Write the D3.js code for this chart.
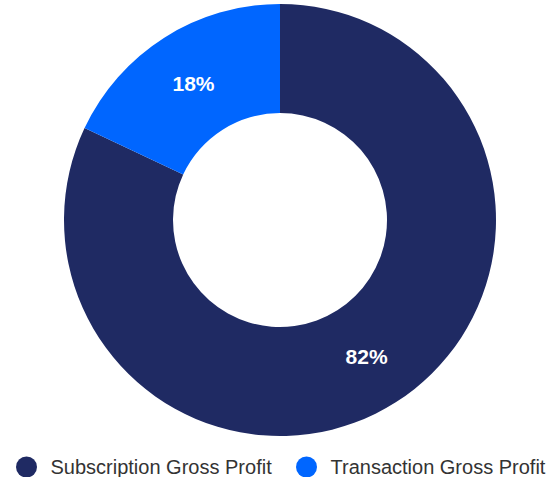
<!DOCTYPE html>
<html lang="en">
<head>
<meta charset="UTF-8">
<title>Gross Profit</title>
<script src="https://cdn.jsdelivr.net/npm/d3@7"></script>
<style>
  body { margin: 0; background: #fff; }
  svg { display: block; font-family: "Liberation Sans", Arial, sans-serif; }
</style>
</head>
<body>
<svg width="550" height="477" id="mainsvg"></svg>
<script>
const categories = ['Subscription Gross Profit', 'Transaction Gross Profit'];
const values = [82, 18];
const colors = ['#1f2a63', '#0066ff'];

const svg = d3.select('#mainsvg');
const cx = 280, cy = 220;
const outerR = 216, innerR = 107;

const data = categories.map((c, i) => ({name: c, value: values[i]}));

const pie = d3.pie().value(d => d.value).sort(null);
const arc = d3.arc().innerRadius(innerR).outerRadius(outerR);

const g = svg.append('g').attr('transform', `translate(${cx},${cy})`);
const arcs = pie(data);

g.selectAll('path').data(arcs).join('path')
  .attr('d', arc)
  .attr('fill', (d, i) => colors[i]);

g.selectAll('text').data(arcs).join('text')
  .attr('transform', d => `translate(${arc.centroid(d)})`)
  .attr('text-anchor', 'middle')
  .attr('dy', '0.35em')
  .attr('fill', '#fff')
  .attr('font-weight', 'bold')
  .attr('font-size', '21px')
  .text(d => d.data.value + '%');

// legend
const legendX = [26.5, 306.5];
const legend = svg.append('g').selectAll('g').data(data).join('g')
  .attr('transform', (d, i) => `translate(${legendX[i]},467)`);
legend.append('circle').attr('r', 10.5).attr('fill', (d, i) => colors[i]);
legend.append('text')
  .attr('x', 24)
  .attr('dy', '0.35em')
  .attr('font-size', '20px')
  .attr('fill', '#333')
  .text(d => d.name);
</script>
</body>
</html>
